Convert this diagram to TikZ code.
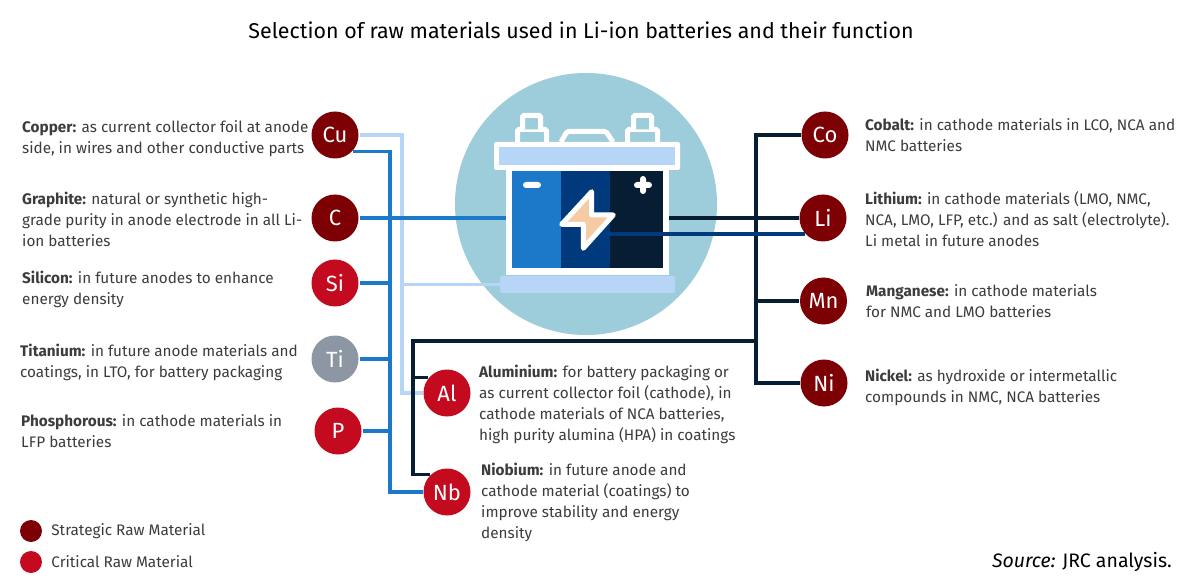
\documentclass[tikz,border=0pt]{standalone}
\usepackage{fontspec}
\setmainfont{Fira Sans}
\usetikzlibrary{positioning, calc}
\definecolor{strategic}{RGB}{125,0,5}
\definecolor{critical}{RGB}{196,10,30}
\definecolor{tigray}{RGB}{141,151,163}
\definecolor{halo}{RGB}{157,204,218}
\definecolor{lightblue}{RGB}{183,214,247}
\definecolor{midblue}{RGB}{28,120,200}
\definecolor{darkblue}{RGB}{0,58,125}
\definecolor{nightblue}{RGB}{7,29,51}
\definecolor{peach}{RGB}{246,203,163}
\definecolor{bodytext}{RGB}{60,60,60}
\tikzset{
  element/.style  = {circle, fill=#1, text=white, minimum size=47pt, inner sep=0pt,
                     outer sep=1pt, font=\fontsize{22}{24}\selectfont},
  legenddot/.style = {circle, fill=#1, minimum size=22pt, inner sep=0pt},
  info/.style     = {anchor=west, align=left, inner sep=0pt, text=bodytext,
                     font=\fontsize{15.3}{21}\selectfont},
  part/.style     = {rectangle, inner sep=0pt, outer sep=0pt},
  white line/.style = {draw=white, line width=5pt, rounded corners=1.5pt},
  feedlight/.style = {draw=lightblue, line width=3.5pt},
  feedblue/.style = {draw=midblue, line width=3.2pt},
  feeddark/.style = {draw=darkblue, line width=3.2pt},
  feedblack/.style = {draw=nightblue, line width=3.2pt},
}
\begin{document}
\begin{tikzpicture}[x=1pt, y=-1pt]
  \useasboundingbox[fill=white] (0,0) rectangle (1200,588);

  % battery
  \node[circle, fill=halo, minimum size=262pt, inner sep=0pt] (halo) at (586,204) {};
  \draw[white line, fill=halo] (517.5,142) -- (517.5,129.5) -- (546.5,129.5) -- (546.5,142);
  \draw[white line, fill=halo] (522.5,129.5) -- (522.5,115.5) -- (540.5,115.5) -- (540.5,129.5);
  \draw[white line, fill=halo] (627.5,142) -- (627.5,129.5) -- (657.5,129.5) -- (657.5,142);
  \draw[white line, fill=halo] (633.5,129.5) -- (633.5,115.5) -- (651.5,115.5) -- (651.5,129.5);
  \draw[white line, fill=halo] (561,142) -- (567,131.5) -- (606,131.5) -- (613,142);
  \node[part, fill=white, rounded corners=2pt, minimum width=186pt, minimum height=28pt] (lid) at (587,156) {};
  \node[part, fill=lightblue, minimum width=176pt, minimum height=18pt] (lidtop) at (587,156) {};
  \node[part, fill=white, minimum width=163pt, minimum height=106pt] (casing) at (587.5,222) {};
  \node[part, fill=midblue, minimum width=49pt, minimum height=97pt] (cellblue) at (536.5,219.5) {};
  \node[part, fill=darkblue, minimum width=49pt, minimum height=97pt] (celldark) at (585.5,219.5) {};
  \node[part, fill=nightblue, minimum width=53pt, minimum height=97pt] (cellnight) at (636.5,219.5) {};
  \node[part, fill=lightblue, rounded corners=1.5pt, minimum width=175pt, minimum height=17pt] (base) at (587.5,284.5) {};
  \node[part, fill=white, rounded corners=3pt, minimum width=18pt, minimum height=6pt] (minus) at (532,185) {};
  \node[part, fill=white, rounded corners=3pt, minimum width=18pt, minimum height=6pt] (plusa) at (643,185) {};
  \node[part, fill=white, rounded corners=3pt, minimum width=6pt, minimum height=18pt] (plusb) at (643,185) {};
  \draw[draw=white, fill=peach, line width=5pt, line join=round]
    (591.7,191.7) -- (561.7,224.3) -- (583.3,224.3) -- (583.3,248.3) -- (613.3,215) -- (591.7,215) -- cycle;

  % elements
  \node[element=strategic] (Cu) at (335,135) {Cu};
  \node[element=strategic] (C) at (335,218) {C};
  \node[element=critical] (Si) at (335,283) {Si};
  \node[element=tigray] (Ti) at (335,359) {Ti};
  \node[element=critical] (P) at (338,431) {P};
  \node[element=critical] (Al) at (447,393) {Al};
  \node[element=critical] (Nb) at (447,492) {Nb};
  \node[element=strategic] (Co) at (825,135) {Co};
  \node[element=strategic] (Li) at (823,218) {Li};
  \node[element=strategic] (Mn) at (823.5,301) {Mn};
  \node[element=strategic] (Ni) at (824,383) {Ni};

  \coordinate (lightbus) at (402,300);
  \coordinate (bluebus) at (390,300);
  \coordinate (blackbus) at (413,400);
  \coordinate (rightbus) at (756,300);
  \coordinate (blacktop) at (600,341);

  % light lines
  \draw[feedlight] (Cu.east) -- (Cu.east -| lightbus) -- (lightbus |- Al.west) -- (Al.west);
  \draw[feedlight, line width=2.5pt] (lightbus |- base.west) -- (base.west);

  % blue lines
  \draw[feedblue] (Cu.-42) -- (Cu.-42 -| bluebus) -- (bluebus |- Nb.west) -- (Nb.west);
  \draw[feedblue] (C.east) -- (C.east -| casing.west);
  \draw[feedblue] (Si.east) -- (Si.east -| bluebus);
  \draw[feedblue] (Ti.east) -- (Ti.east -| bluebus);
  \draw[feedblue] (P.east) -- (P.east -| bluebus);

  % black lines
  \draw[feedblack] (Al.140) -- (Al.140 -| blackbus);
  \draw[feedblack] (Nb.135) -- (Nb.135 -| blackbus) -- (blackbus |- blacktop) -- (rightbus |- blacktop);
  \draw[feedblack] (Co.west) -- (Co.west -| rightbus) -- (rightbus |- Ni.west) -- (Ni.west);
  \draw[feedblack] (Mn.west) -- (Mn.west -| rightbus);
  \draw[feedblack] (casing.east |- Li.west) -- (Li.west);
  \draw[feeddark] (Li.221 -| cellnight.west) -- (Li.221);

  % texts
  \node[anchor=center, inner sep=0pt, text=black, font=\fontsize{21.4}{26}\selectfont] (title) at (581,30)
    {Selection of raw materials used in Li-ion batteries and their function};
  \node[info] (cutext) at (22,139) {\textbf{Copper:} as current collector foil at anode\\side, in wires and other conductive parts};
  \node[info] (ctext) at (22,219) {\textbf{Graphite:} natural or synthetic high-\\grade purity in anode electrode in all Li-\\ion batteries};
  \node[info] (sitext) at (22,289) {\textbf{Silicon:} in future anodes to enhance\\energy density};
  \node[info] (titext) at (20,362) {\textbf{Titanium:} in future anode materials and\\coatings, in LTO, for battery packaging};
  \node[info] (ptext) at (21,431) {\textbf{Phosphorous:} in cathode materials in\\LFP batteries};
  \node[info] (altext) at (479,404) {\textbf{Aluminium:} for battery packaging or\\as current collector foil (cathode), in\\cathode materials of NCA batteries,\\high purity alumina (HPA) in coatings};
  \node[info] (nbtext) at (481,502) {\textbf{Niobium:} in future anode and\\cathode material (coatings) to\\improve stability and energy\\density};
  \node[info] (cotext) at (865,135) {\textbf{Cobalt:} in cathode materials in LCO, NCA and\\NMC batteries};
  \node[info] (litext) at (865,219) {\textbf{Lithium:} in cathode materials (LMO, NMC,\\NCA, LMO, LFP, etc.) and as salt (electrolyte).\\Li metal in future anodes};
  \node[info] (mntext) at (866,301) {\textbf{Manganese:} in cathode materials\\for NMC and LMO batteries};
  \node[info] (nitext) at (865,387) {\textbf{Nickel:} as hydroxide or intermetallic\\compounds in NMC, NCA batteries};

  % legend
  \node[legenddot=strategic] (dotstrategic) at (31,531) {};
  \node[legenddot=critical] (dotcritical) at (31,562) {};
  \node[info, right=9pt of dotstrategic] (legstrategic) {Strategic Raw Material};
  \node[info, right=9pt of dotcritical] (legcritical) {Critical Raw Material};
  \node[anchor=east, inner sep=0pt, text=black, font=\fontsize{19.5}{22}\selectfont] (source) at (1172,562) {\textit{Source:} JRC analysis.};
\end{tikzpicture}
\end{document}
